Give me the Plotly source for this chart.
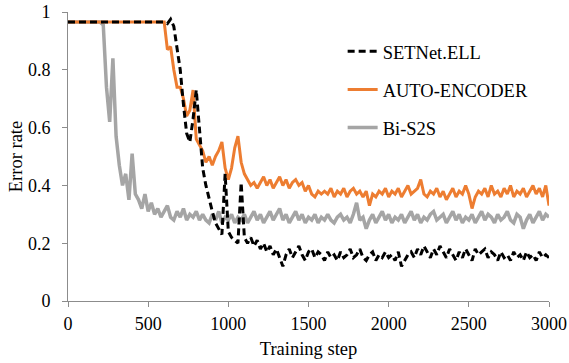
import plotly.graph_objects as go

steps = list(range(0, 3001, 20))

setnet_ell = [
    0.965, 0.965, 0.965, 0.965, 0.965, 0.965, 0.965, 0.965, 0.965, 0.965,
    0.965, 0.965, 0.965, 0.965, 0.965, 0.965, 0.965, 0.965, 0.965, 0.965,
    0.965, 0.965, 0.965, 0.965, 0.965, 0.965, 0.965, 0.965, 0.965, 0.965,
    0.965, 0.96, 0.975, 0.95, 0.87, 0.80, 0.68, 0.58, 0.55, 0.63,
    0.73, 0.60, 0.46, 0.40, 0.35, 0.31, 0.27, 0.25, 0.23, 0.44,
    0.24, 0.22, 0.21, 0.20, 0.41, 0.22, 0.20, 0.22, 0.19, 0.21,
    0.18, 0.20, 0.17, 0.19, 0.16, 0.18, 0.15, 0.12, 0.16, 0.18,
    0.15, 0.17, 0.19, 0.16, 0.14, 0.17, 0.18, 0.15, 0.17, 0.16,
    0.14, 0.17, 0.15, 0.16, 0.14, 0.17, 0.15, 0.16, 0.18, 0.15,
    0.16, 0.18, 0.15, 0.14, 0.16, 0.17, 0.14, 0.16, 0.15, 0.17,
    0.15, 0.16, 0.14, 0.17, 0.12, 0.14, 0.16, 0.17, 0.15, 0.18,
    0.16, 0.19, 0.17, 0.15, 0.18, 0.16, 0.19, 0.17, 0.15, 0.18,
    0.16, 0.14, 0.17, 0.15, 0.18, 0.16, 0.14, 0.18, 0.16, 0.17,
    0.18, 0.15, 0.17, 0.16, 0.14, 0.17, 0.15, 0.16, 0.14, 0.17,
    0.15, 0.16, 0.14, 0.17, 0.15, 0.16, 0.14, 0.17, 0.15, 0.16,
    0.15,
]

auto_encoder = [
    0.965, 0.965, 0.965, 0.965, 0.965, 0.965, 0.965, 0.965, 0.965, 0.965,
    0.965, 0.965, 0.965, 0.965, 0.965, 0.965, 0.965, 0.965, 0.965, 0.965,
    0.965, 0.965, 0.965, 0.965, 0.965, 0.965, 0.965, 0.965, 0.965, 0.965,
    0.965, 0.87, 0.88, 0.80, 0.74, 0.74, 0.70, 0.64, 0.66, 0.73,
    0.56, 0.54, 0.52, 0.48, 0.50, 0.47, 0.50, 0.52, 0.55, 0.46,
    0.42, 0.46, 0.53, 0.57, 0.48, 0.44, 0.42, 0.40, 0.41, 0.39,
    0.41, 0.43, 0.40, 0.42, 0.39, 0.41, 0.43, 0.40, 0.42, 0.39,
    0.41, 0.42, 0.40, 0.41, 0.38, 0.40, 0.37, 0.36, 0.38, 0.37,
    0.38, 0.37, 0.39, 0.36, 0.38, 0.37, 0.39, 0.36, 0.38, 0.39,
    0.37, 0.38, 0.36, 0.38, 0.33, 0.37, 0.36, 0.38, 0.37, 0.39,
    0.36, 0.38, 0.37, 0.39, 0.36, 0.38, 0.40, 0.37, 0.38, 0.39,
    0.42, 0.37, 0.36, 0.38, 0.37, 0.39, 0.36, 0.38, 0.35, 0.37,
    0.39, 0.36, 0.38, 0.37, 0.40, 0.37, 0.32, 0.36, 0.38, 0.37,
    0.39, 0.36, 0.40, 0.37, 0.38, 0.36, 0.39, 0.37, 0.40, 0.36,
    0.38, 0.37, 0.39, 0.36, 0.38, 0.40, 0.37, 0.39, 0.36, 0.40,
    0.33,
]

bi_s2s = [
    0.965, 0.965, 0.965, 0.965, 0.965, 0.965, 0.965, 0.965, 0.965, 0.965,
    0.965, 0.955, 0.74, 0.62, 0.84, 0.57, 0.47, 0.40, 0.44, 0.35,
    0.51, 0.37, 0.35, 0.32, 0.37, 0.31, 0.34, 0.30, 0.32, 0.29,
    0.31, 0.33, 0.29, 0.28, 0.31, 0.29, 0.32, 0.28, 0.30, 0.29,
    0.31, 0.28, 0.30, 0.28, 0.27, 0.30, 0.28, 0.31, 0.27, 0.29,
    0.28, 0.30, 0.27, 0.29, 0.28, 0.30, 0.27, 0.29, 0.31, 0.28,
    0.30, 0.27, 0.29, 0.31, 0.28, 0.30, 0.32, 0.28, 0.30, 0.27,
    0.29, 0.31, 0.28, 0.30, 0.27, 0.29, 0.28, 0.30, 0.27, 0.29,
    0.28, 0.30, 0.28, 0.27, 0.29, 0.30, 0.28, 0.29, 0.27, 0.30,
    0.34, 0.28, 0.29, 0.25, 0.28, 0.30, 0.27, 0.29, 0.31, 0.28,
    0.30, 0.27, 0.29, 0.28, 0.30, 0.27, 0.29, 0.31, 0.28, 0.30,
    0.27, 0.29, 0.28, 0.30, 0.31, 0.28, 0.29, 0.30, 0.27, 0.29,
    0.31, 0.28, 0.30, 0.27, 0.29, 0.28, 0.30, 0.27, 0.29, 0.31,
    0.28, 0.30, 0.29, 0.27, 0.30, 0.28, 0.29, 0.31, 0.28, 0.27,
    0.30, 0.29, 0.25, 0.28, 0.30, 0.27, 0.29, 0.31, 0.28, 0.30,
    0.29,
]

x_ticks = [0, 500, 1000, 1500, 2000, 2500, 3000]
y_ticks = [0, 0.2, 0.4, 0.6, 0.8, 1]

FONT = "Liberation Serif, Times New Roman, serif"
AXIS_COLOR = "#8c8c8c"
TICK_FONT = dict(family=FONT, size=18, color="black")
TITLE_FONT = dict(family=FONT, size=18.5, color="black")
LEGEND_FONT = dict(family=FONT, size=18.5, color="black")

fig = go.Figure()
fig.add_trace(go.Scatter(x=steps, y=bi_s2s, mode="lines", name="Bi-S2S",
                         legendgroup="c", legendrank=3,
                         line=dict(color="#a5a5a5", width=3.5)))
fig.add_trace(go.Scatter(x=steps, y=auto_encoder, mode="lines", name="AUTO-ENCODER",
                         legendgroup="b", legendrank=2,
                         line=dict(color="#ed7d31", width=3)))
fig.add_trace(go.Scatter(x=steps, y=setnet_ell, mode="lines", name="SETNet.ELL",
                         legendgroup="a", legendrank=1,
                         line=dict(color="black", width=3, dash="7px,4px")))

fig.update_layout(
    width=569, height=363,
    margin=dict(l=68, r=20, t=12, b=62, autoexpand=False),
    paper_bgcolor="white", plot_bgcolor="white",
    font=TICK_FONT,
    showlegend=True,
    legend=dict(x=0.571, y=0.928, xanchor="left", yanchor="top",
                traceorder="grouped", tracegroupgap=11,
                bgcolor="rgba(0,0,0,0)", font=LEGEND_FONT),
    xaxis=dict(range=[0, 3000], tickvals=x_ticks, showgrid=False, zeroline=False,
               showline=True, linecolor=AXIS_COLOR, linewidth=1,
               ticks="outside", ticklen=5, tickcolor=AXIS_COLOR,
               tickfont=TICK_FONT, automargin=False, ticklabelstandoff=1,
               ticklabeloverflow="allow",
               title=dict(text="Training step", standoff=9, font=TITLE_FONT)),
    yaxis=dict(range=[0, 1], tickvals=y_ticks, showgrid=False, zeroline=False,
               showline=True, linecolor=AXIS_COLOR, linewidth=1,
               ticks="outside", ticklen=5, tickcolor=AXIS_COLOR,
               tickfont=TICK_FONT, automargin=False, ticklabelstandoff=8,
               ticklabeloverflow="allow",
               title=dict(text="Error rate", standoff=0, font=TITLE_FONT)),
)

fig.write_html(
    "out.html",
    config={"displayModeBar": False},
    post_script="document.body.style.margin='0';document.body.style.overflow='hidden';",
)
